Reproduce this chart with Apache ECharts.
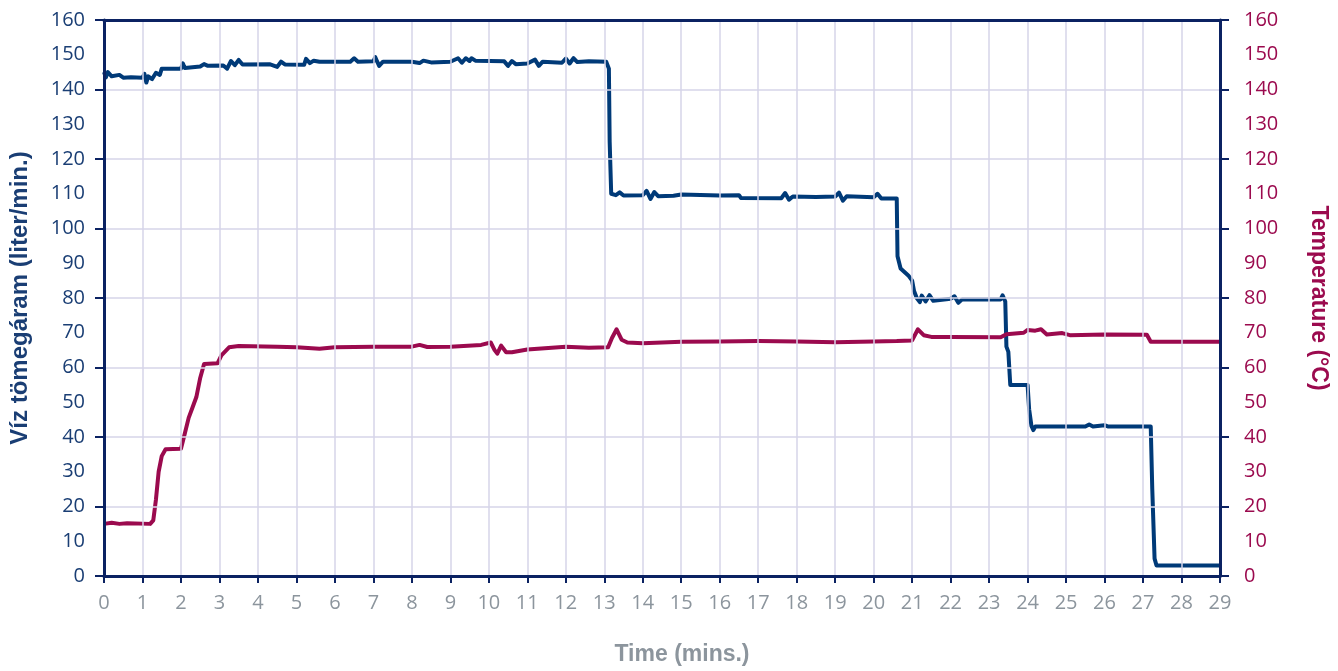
<!DOCTYPE html>
<html>
<head>
<meta charset="utf-8">
<script src="https://cdn.jsdelivr.net/npm/echarts@6/dist/echarts.min.js"></script>
<style>
html,body{margin:0;padding:0;background:#fff;}
#chart{width:1338px;height:671px;}
</style>
</head>
<body>
<div id="chart"></div>
<script>
// Time (mins.) / flow (liter/min.)
const flowData = [
  [0,145],[0.05,143.5],[0.1,145],[0.2,143.8],[0.4,144.2],[0.5,143.4],[0.7,143.5],[1.0,143.4],[1.05,144.5],[1.1,142],[1.15,143.8],[1.25,143],[1.35,144.8],[1.45,144.2],[1.5,146],
  [2.0,146],[2.05,147.5],[2.1,146.2],[2.5,146.6],[2.6,147.3],[2.7,146.8],[3.1,146.9],[3.2,146],[3.3,148.2],[3.4,147],[3.5,148.5],[3.6,147.2],[4.3,147.3],[4.5,146.5],[4.6,148],[4.7,147.2],[5.2,147.1],[5.25,148.8],[5.35,147.6],[5.45,148.3],[5.6,148],
  [6.4,148],[6.5,149],[6.6,148],[7.0,148.1],[7.05,149.3],[7.1,148],[7.15,146.8],[7.25,148],[8.0,148],[8.2,147.6],[8.3,148.3],[8.5,147.8],[9.0,148],[9.2,149],[9.3,147.7],[9.4,149],[9.5,148.2],[9.55,149],[9.65,148.3],
  [10.4,148.1],[10.5,146.8],[10.6,148.2],[10.7,147.3],[11.0,147.5],[11.2,148.6],[11.3,146.8],[11.4,148],[11.9,147.7],[12.0,148.9],[12.1,147.5],[12.2,149],[12.3,147.9],[12.6,148.1],[13.05,148],
  [13.12,146],[13.14,125],[13.18,110],[13.3,109.6],[13.4,110.4],[13.5,109.5],[14.0,109.6],[14.1,110.8],[14.2,108.5],[14.3,110.5],[14.4,109.3],[14.8,109.4],[15.0,109.8],[16.0,109.5],[16.5,109.6],[16.55,108.8],
  [17.6,108.7],[17.7,110.2],[17.8,108.3],[17.9,109.2],[18.5,109.1],[19.0,109.2],[19.1,110.3],[19.2,108],[19.3,109.3],[20.0,109],[20.1,110],[20.2,108.6],[20.6,108.6],
  [20.62,92],[20.7,88.5],[20.9,86.5],[21.0,85],[21.05,82],[21.12,80],[21.2,78.8],[21.25,80.7],[21.35,79],[21.45,80.8],[21.55,79.2],[22.0,79.8],[22.1,80.5],[22.2,78.6],[22.3,79.6],[23.3,79.6],[23.35,80.8],[23.42,79],
  [23.45,66],[23.5,64.5],[23.55,55],[24.0,55],[24.04,48],[24.1,43.2],[24.15,42],[24.2,43],[25.5,43],[25.6,43.6],[25.7,43],[26.0,43.4],[26.1,43],[27.2,43],
  [27.24,25],[27.3,5],[27.35,3],[29,3]
];
// Time (mins.) / temperature (°C)
const tempData = [
  [0,15],[0.2,15.3],[0.4,15],[0.6,15.2],[1.2,15],[1.28,16],[1.35,22],[1.42,30],[1.5,34.5],[1.6,36.5],[2.0,36.6],[2.1,41],[2.2,45.5],[2.3,48.5],[2.4,51.5],[2.5,57],[2.6,61],[2.95,61.2],[3.05,63.5],[3.25,65.8],[3.5,66.2],
  [4.5,66],[5.0,65.8],[5.6,65.4],[6.0,65.8],[7.0,66],[8.0,66],[8.2,66.5],[8.4,65.9],[9.0,66],[9.8,66.5],[10.05,67.2],[10.15,65],[10.22,64],[10.32,66.3],[10.45,64.4],[10.6,64.4],[11.0,65.2],[12.0,66],[12.6,65.7],[13.1,65.8],
  [13.2,68.5],[13.32,71],[13.45,68],[13.6,67.2],[14.0,67],[15.0,67.4],[16.0,67.5],[17.0,67.6],[18.0,67.5],[19.0,67.3],[20.0,67.5],[20.6,67.6],[21.0,67.8],[21.15,71],[21.3,69.3],[21.5,68.8],[22.0,68.8],[23.3,68.7],
  [23.45,69.6],[23.9,70],[24.0,70.8],[24.2,70.6],[24.35,71],[24.5,69.5],[24.9,69.9],[25.1,69.3],[26.0,69.5],[27.1,69.4],[27.2,67.4],[29,67.4]
];
const xTicks = {min:0, max:29, step:1};
const yTicks = {min:0, max:160, gridStep:20};
const yLabelValues = [0,10,20,30,40,50,60,70,80,90,100,110,120,130,140,150,160];

const NAVY = '#0b2262';
const BLUE = '#003a78';
const RED = '#9b0a4e';
const GRAY = '#8c959d';
const GRID = '#d6d4e8';
const FONT = 'Open Sans';
const NAME_FONT = 'Liberation Sans';

const chart = echarts.init(document.getElementById('chart'));
chart.setOption({
  animation: false,
  backgroundColor: '#ffffff',
  grid: {left: 103, right: 116, top: 20, bottom: 93, show: false},
  xAxis: [
    {
      type: 'value', min: xTicks.min, max: xTicks.max, interval: xTicks.step, position: 'bottom',
      name: 'Time (mins.)', nameLocation: 'middle', nameGap: 67,
      nameTextStyle: {color: GRAY, fontFamily: NAME_FONT, fontWeight: 'bold', fontSize: 23, padding: [0,0,0,40]},
      axisLine: {show: true, onZero: false, lineStyle: {color: NAVY, width: 3}},
      axisTick: {show: true, length: 7, lineStyle: {color: NAVY, width: 2}},
      axisLabel: {color: GRAY, fontFamily: FONT, fontSize: 20, margin: 17},
      splitLine: {show: true, lineStyle: {color: GRID, width: 1.5}},
      z: 5
    },
    {
      type: 'value', min: xTicks.min, max: xTicks.max, interval: xTicks.step, position: 'top',
      axisLine: {show: true, onZero: false, lineStyle: {color: NAVY, width: 3}},
      axisTick: {show: false}, axisLabel: {show: false}, splitLine: {show: false},
      z: 5
    }
  ],
  yAxis: [
    {
      type: 'value', position: 'left', min: yTicks.min, max: yTicks.max, interval: yTicks.gridStep,
      name: 'Víz tömegáram (liter/min.)', nameLocation: 'middle', nameGap: 72, nameRotate: 90,
      nameTextStyle: {color: '#1a3e74', fontFamily: NAME_FONT, fontWeight: 'bold', fontSize: 24},
      axisLine: {show: true, onZero: false, lineStyle: {color: NAVY, width: 3}},
      axisTick: {show: true, length: 9, lineStyle: {color: NAVY, width: 2}},
      axisLabel: {color: '#1a3e74', fontFamily: FONT, fontSize: 20, margin: 19, padding: [6,0,0,0], customValues: yLabelValues},
      splitLine: {show: true, lineStyle: {color: GRID, width: 1.5}},
      z: 5
    },
    {
      type: 'value', position: 'right', min: yTicks.min, max: yTicks.max, interval: yTicks.gridStep,
      name: 'Temperature (°C)', nameLocation: 'middle', nameGap: 87, nameRotate: -90,
      nameTextStyle: {color: RED, fontFamily: NAME_FONT, fontWeight: 'bold', fontSize: 23},
      axisLine: {show: true, onZero: false, lineStyle: {color: NAVY, width: 3}},
      axisTick: {show: true, length: 9, lineStyle: {color: NAVY, width: 2}},
      axisLabel: {color: RED, fontFamily: FONT, fontSize: 20, margin: 24, padding: [6,0,0,0], customValues: yLabelValues},
      splitLine: {show: false},
      z: 5
    }
  ],
  series: [
    {type: 'line', xAxisIndex: 0, yAxisIndex: 0, data: flowData, showSymbol: false, symbol: 'none', lineStyle: {color: BLUE, width: 4, join: 'round'}, z: 3},
    {type: 'line', xAxisIndex: 0, yAxisIndex: 1, data: tempData, showSymbol: false, symbol: 'none', lineStyle: {color: RED, width: 4, join: 'round'}, z: 4}
  ]
});
</script>
</body>
</html>
